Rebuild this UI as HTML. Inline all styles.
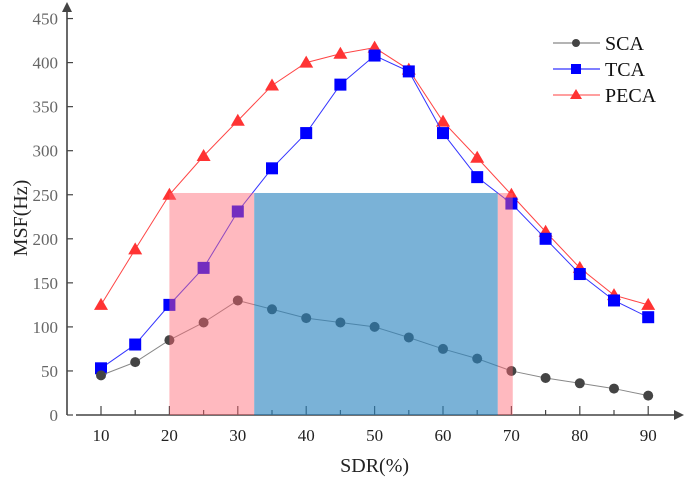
<!DOCTYPE html>
<html><head><meta charset="utf-8"><style>
html,body{margin:0;padding:0;background:#fff;}
svg{display:block;font-family:"Liberation Serif",serif;}
</style></head><body>
<svg id="chart" width="685" height="480"></svg>
<script>
const categories=[10,15,20,25,30,35,40,45,50,55,60,65,70,75,80,85,90];
const scaValues=[45,60,85,105,130,120,110,105,100,88,75,64,50,42,36,30,22];
const tcaValues=[53,80,125,167,231,280,320,375,408,390,320,270,240,200,160,130,111];
const pecaValues=[125,188,250,294,334,374,400,410,417,392,333,292,250,208,167,136,125];
const yTicks=[0,50,100,150,200,250,300,350,400,450];
const xTicks=[10,20,30,40,50,60,70,80,90];
const pinkRegion=[20,70.2,252];
const blueRegion=[32.4,68,252];

const NS="http://www.w3.org/2000/svg";
const svg=document.getElementById('chart');
function X(v){return 101+(v-10)*6.84;}
function Y(v){return 415-v*0.881;}
function el(t,a,p){const e=document.createElementNS(NS,t);for(const k in a)e.setAttribute(k,a[k]);(p||svg).appendChild(e);return e;}

// axes
const ax=el('g',{});


el('line',{x1:67,y1:415,x2:67,y2:10,stroke:'#444','stroke-width':1.6},ax);
el('polygon',{points:'62,12 67,2 72,12',fill:'#444'},ax);
el('line',{x1:76,y1:415,x2:676,y2:415,stroke:'#444','stroke-width':1.6},ax);
el('polygon',{points:'674,410 684,415 674,420',fill:'#444'},ax);
yTicks.forEach(v=>{
  el('line',{x1:67,y1:Y(v),x2:73,y2:Y(v),stroke:'#444','stroke-width':1.2},ax);
  const t=el('text',{x:58,y:Y(v)+6,'text-anchor':'end','font-size':17,fill:'#666'},ax);
  t.textContent=v;
  
  
});
categories.forEach(v=>{
  const major=xTicks.includes(v);
  el('line',{x1:X(v),y1:415,x2:X(v),y2:major?406:410,stroke:'#444','stroke-width':1.2},ax);
});
xTicks.forEach(v=>{
  const t=el('text',{x:X(v),y:441,'text-anchor':'middle','font-size':17,fill:'#222'},ax);
  t.textContent=v;
  
  
});
const yt=el('text',{x:0,y:0,transform:'translate(27,218) rotate(-90)','text-anchor':'middle','font-size':20,fill:'#222'});
yt.textContent='MSF(Hz)';


const xt=el('text',{x:X(50),y:472,'text-anchor':'middle','font-size':20,fill:'#222'});
xt.textContent='SDR(%)';



function series(vals,color,lineColor,shape,name){
  const g=el('g',{});
  
  
  el('polyline',{points:vals.map((v,i)=>X(categories[i])+','+Y(v)).join(' '),fill:'none',stroke:lineColor,'stroke-width':1},g);
  vals.forEach((v,i)=>{
    const x=X(categories[i]),y=Y(v);let m;
    if(shape==='circle')m=el('circle',{cx:x,cy:y,r:5,fill:color},g);
    else if(shape==='square')m=el('rect',{x:x-6,y:y-6,width:12,height:12,fill:color},g);
    else m=el('polygon',{points:`${x},${y-7} ${x-7},${y+5} ${x+7},${y+5}`,fill:color},g);
    
    
  });
}
series(pecaValues,'#ff3333','#ff4444','tri','peca');
series(tcaValues,'#0000ff','#3333ff','square','tca');
series(scaValues,'#444','#888','circle','sca');

// shaded regions drawn on top
const r1=el('rect',{x:X(pinkRegion[0]),y:Y(pinkRegion[2]),width:X(blueRegion[0])-X(pinkRegion[0]),height:415-Y(pinkRegion[2]),fill:'rgba(255,100,112,0.45)'});


const r2=el('rect',{x:X(blueRegion[1]),y:Y(pinkRegion[2]),width:X(pinkRegion[1])-X(blueRegion[1]),height:415-Y(pinkRegion[2]),fill:'rgba(255,100,112,0.45)'});


const r3=el('rect',{x:X(blueRegion[0]),y:Y(blueRegion[2]),width:X(blueRegion[1])-X(blueRegion[0]),height:415-Y(blueRegion[2]),fill:'rgba(40,130,190,0.62)'});



// legend
const lg=el('g',{});


[['SCA','#444','#888','circle'],['TCA','#0000ff','#3333ff','square'],['PECA','#ff3333','#ff6666','tri']].forEach((d,i)=>{
  const y=43+i*26;
  el('line',{x1:553,y1:y,x2:600,y2:y,stroke:d[2],'stroke-width':1.2},lg);
  if(d[3]==='circle')el('circle',{cx:576,cy:y,r:4,fill:d[1]},lg);
  else if(d[3]==='square')el('rect',{x:571,y:y-5,width:10,height:10,fill:d[1]},lg);
  else el('polygon',{points:`576,${y-6} 570,${y+4} 582,${y+4}`,fill:d[1]},lg);
  const t=el('text',{x:605,y:y+7,'font-size':20,fill:'#111'},lg);
  t.textContent=d[0];
  
  
});
</script>
</body></html>
